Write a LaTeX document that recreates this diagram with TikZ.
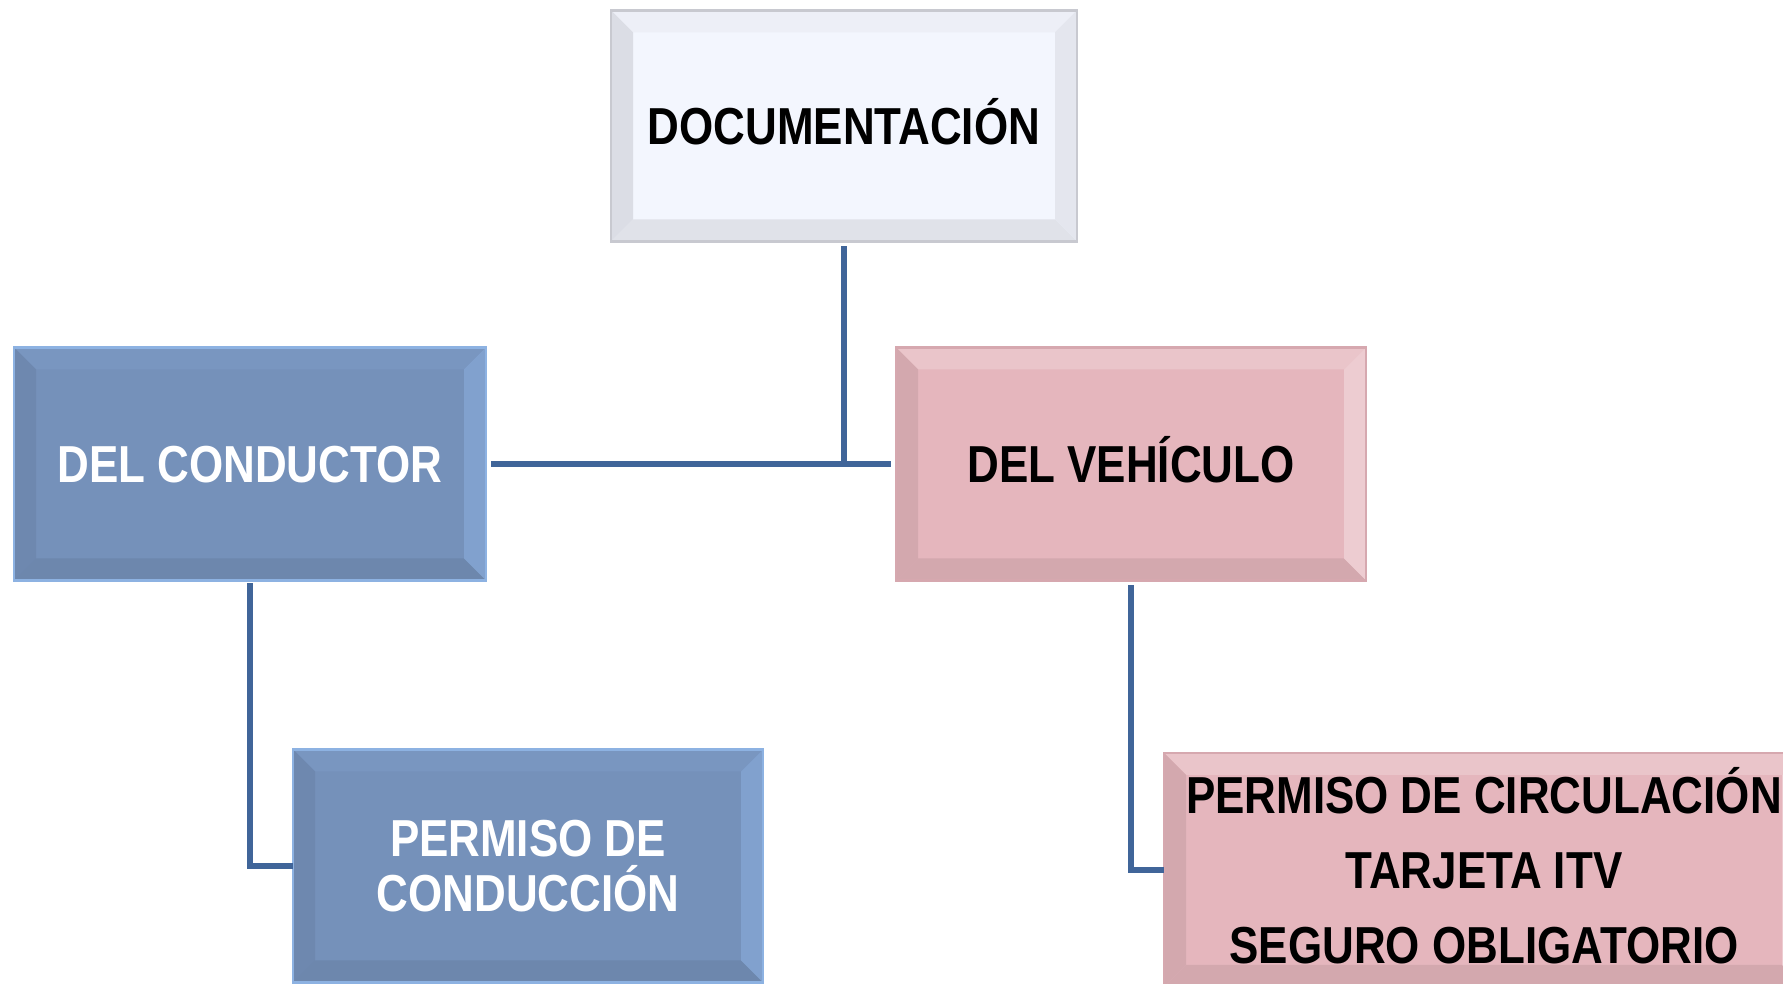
\documentclass[tikz,border=0pt]{standalone}
\usepackage{fontspec}
\usepackage{tikz}
\usepackage{xcolor}
\newfontfamily\narrowfont[FakeStretch=0.845]{Liberation Sans}

\definecolor{docfill}{RGB}{243,246,254}
\definecolor{docedge}{RGB}{200,201,208}
\definecolor{bluefill}{RGB}{117,145,186}
\definecolor{blueedge}{RGB}{141,178,226}
\definecolor{pinkfill}{RGB}{229,182,189}
\definecolor{pinkedge}{RGB}{214,168,175}
\definecolor{linkblue}{RGB}{64,101,153}

\tikzset{
    box/.style={rectangle, inner sep=0pt, outer sep=0pt, line width=0.8pt,
        minimum width=4.7cm, minimum height=2.33cm, align=center,
        text height=10.6pt, text depth=0pt,
        font=\narrowfont\bfseries\fontsize{14.8}{15.6}\selectfont},
    multiline/.style={text height={}, text depth={}},
    bevel/.style n args={4}{path picture={
        \coordinate (nw) at (path picture bounding box.north west);
        \coordinate (ne) at (path picture bounding box.north east);
        \coordinate (sw) at (path picture bounding box.south west);
        \coordinate (se) at (path picture bounding box.south east);
        \fill[#1] (nw) -- (ne) -- ([shift={(-0.22,-0.22)}]ne) -- ([shift={(0.22,-0.22)}]nw) -- cycle;
        \fill[#2] (nw) -- (sw) -- ([shift={(0.22,0.22)}]sw) -- ([shift={(0.22,-0.22)}]nw) -- cycle;
        \fill[#3] (sw) -- (se) -- ([shift={(-0.22,0.22)}]se) -- ([shift={(0.22,0.22)}]sw) -- cycle;
        \fill[#4] (ne) -- (se) -- ([shift={(-0.22,0.22)}]se) -- ([shift={(-0.22,-0.22)}]ne) -- cycle;
    }},
    docbox/.style={box, fill=docfill, draw=docedge, text=black,
        bevel={docfill!85!docedge}{docedge!55!docfill}{docedge!45!docfill}{docedge!35!docfill}},
    bluebox/.style={box, fill=bluefill, draw=blueedge, text=white,
        bevel={bluefill!85!blueedge}{bluefill!94!black}{bluefill!93!black}{bluefill!50!blueedge}},
    pinkbox/.style={box, fill=pinkfill, draw=pinkedge, text=black,
        bevel={pinkfill!80!white}{pinkfill!92!black}{pinkfill!92!black}{pinkfill!70!white}},
    link/.style={draw=linkblue, line width=1.5pt}
}

\begin{document}
\begin{tikzpicture}
    \useasboundingbox (0,0) rectangle (17.83,9.84);
    \clip (0,0) rectangle (17.83,9.84);

    \coordinate (D) at (8.44,8.58);
    \coordinate (C) at (2.50,5.20);
    \coordinate (V) at (11.31,5.20);
    \coordinate (PC) at (5.28,1.18);
    \coordinate (PV) at (14.84,1.14);

    \node[docbox, minimum width=4.66cm, minimum height=2.31cm] (doc) at (D) {DOCUMENTACIÓN};
    \node[bluebox, minimum width=4.72cm] (cond) at (C) {DEL CONDUCTOR};
    \node[pinkbox] (veh) at (V) {DEL VEHÍCULO};
    \node[bluebox, multiline] (pcond) at (PC) {PERMISO DE\\CONDUCCIÓN};
    \node[pinkbox, multiline, minimum width=6.4cm, minimum height=2.34cm,
        font=\narrowfont\bfseries\fontsize{14.8}{21.3}\selectfont] (pveh) at (PV)
        {\raisebox{0pt}[10.6pt][0pt]{PERMISO DE CIRCULACIÓN}\\TARJETA ITV\\SEGURO OBLIGATORIO};

    \draw[link, shorten <=0.05cm, shorten >=0.05cm] (cond.east) -- (veh.west);
    \draw[link, shorten <=0.05cm] (doc.south) -- (doc.south |- cond.east);
    \draw[link, shorten <=0.03cm] (cond.south) |- (pcond.west);
    \draw[link, shorten <=0.05cm] (veh.south) |- (pveh.west);
\end{tikzpicture}
\end{document}
